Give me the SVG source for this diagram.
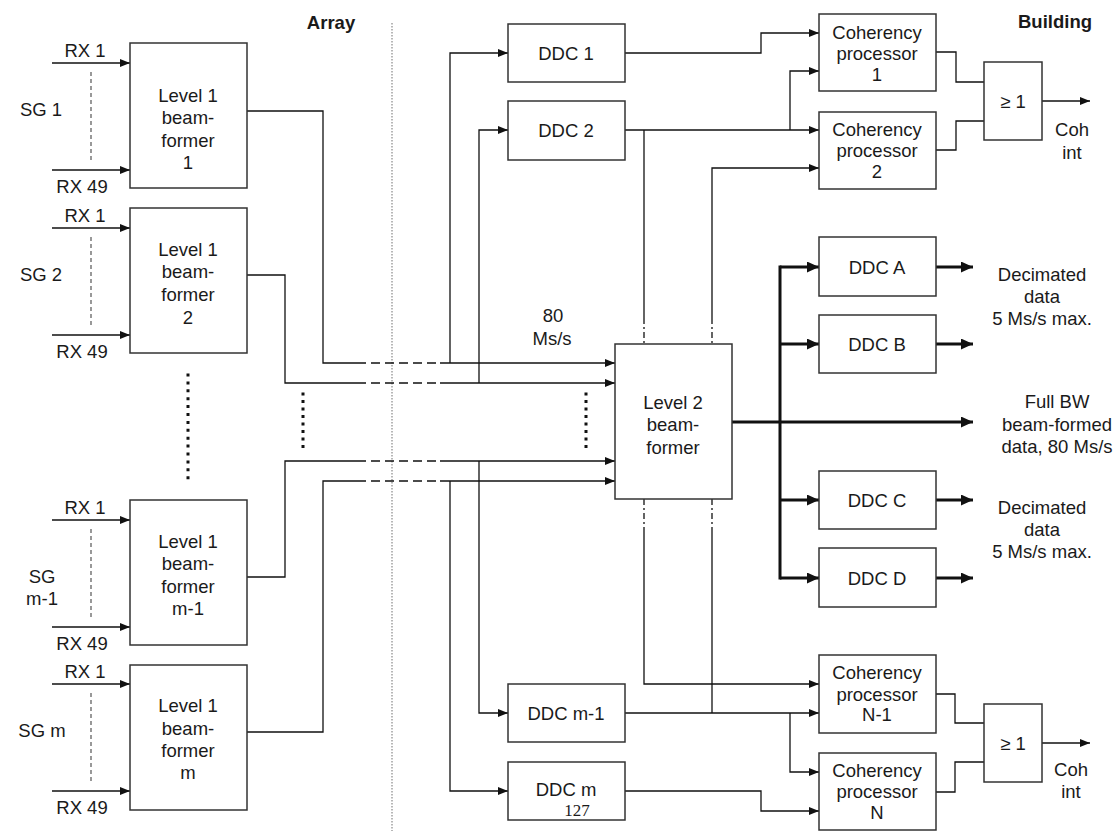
<svg xmlns="http://www.w3.org/2000/svg" width="1120" height="831" viewBox="0 0 1120 831">
<defs>
<marker id="a" markerUnits="userSpaceOnUse" markerWidth="10" markerHeight="8" refX="10" refY="4" orient="auto"><path d="M0,0 L10,4 L0,8 z" fill="#111"/></marker>
<marker id="b" markerUnits="userSpaceOnUse" markerWidth="12" markerHeight="11" refX="12" refY="5.5" orient="auto"><path d="M0,0 L12,5.5 L0,11 z" fill="#111"/></marker>
<style>
.box{fill:#fff;stroke:#333;stroke-width:1.5}
text{font-family:"Liberation Sans",Arial,sans-serif;font-size:18.5px;fill:#1a1a1a;text-anchor:middle}
.t{font-weight:bold;font-size:18.5px}
.ln{fill:none;stroke:#111;stroke-width:1.3}
.ar{fill:none;stroke:#111;stroke-width:1.3;marker-end:url(#a)}
.dash{fill:none;stroke:#111;stroke-width:1.3;stroke-dasharray:9 5}
.dd{fill:none;stroke:#111;stroke-width:1.3;stroke-dasharray:6 3 2 3}
.gd{fill:none;stroke:#555;stroke-width:1.2;stroke-dasharray:4 3}
.thick{fill:none;stroke:#111;stroke-width:3}
.tar{fill:none;stroke:#111;stroke-width:3;marker-end:url(#b)}
.dots{fill:none;stroke:#111;stroke-width:3}
.serif{font-family:"Liberation Serif","Times New Roman",serif;font-size:17px}
</style>
</defs>
<rect width="1120" height="831" fill="#fff"/>
<text class="t" x="331" y="29">Array</text>
<text class="t" x="1055" y="28">Building</text>
<line x1="392" y1="23" x2="392" y2="831" stroke="#888" stroke-width="1.2" stroke-dasharray="1.5 1.5"/>
<g id="connectors">
<path class="ar" d="M52,63 H130"/><path class="ar" d="M52,170 H130"/><path class="gd" d="M91,72 V160"/>
<path class="ar" d="M52,228 H130"/><path class="ar" d="M52,335 H130"/><path class="gd" d="M91,237 V325"/>
<path class="ar" d="M52,520 H130"/><path class="ar" d="M52,627 H130"/><path class="gd" d="M91,529 V617"/>
<path class="ar" d="M52,684 H130"/><path class="ar" d="M52,791 H130"/><path class="gd" d="M91,693 V781"/>
<path class="ln" d="M247,111 H323 V363 H357"/><path class="dash" d="M357,363 H440"/><path class="ar" d="M440,363 H615"/>
<path class="ln" d="M247,275 H285 V383 H357"/><path class="dash" d="M357,383 H440"/><path class="ar" d="M440,383 H615"/>
<path class="ln" d="M247,577 H285 V461 H357"/><path class="dash" d="M357,461 H440"/><path class="ar" d="M440,461 H615"/>
<path class="ln" d="M247,732 H323 V481 H357"/><path class="dash" d="M357,481 H440"/><path class="ar" d="M440,481 H615"/>
<path class="ar" d="M450,363 V53 H508"/>
<path class="ar" d="M479,383 V130 H508"/>
<path class="ar" d="M479,461 V713 H508"/>
<path class="ar" d="M450,481 V791 H508"/>
<path class="ar" d="M625,53 H761 V33 H819"/>
<path class="ar" d="M625,130 H819"/>
<path class="ar" d="M790,130 V71 H819"/>
<path class="ln" d="M644,130 V318"/><path class="dd" d="M644,318 V344"/>
<path class="ar" d="M712,318 V168 H819"/><path class="dd" d="M712,318 V344"/>
<path class="dd" d="M644,499 V527"/><path class="ar" d="M644,527 V684 H819"/>
<path class="dd" d="M712,499 V527"/><path class="ln" d="M712,527 V713"/>
<path class="ar" d="M625,713 H819"/>
<path class="ar" d="M790,713 V772 H819"/>
<path class="ar" d="M625,791 H761 V811 H819"/>
<path class="ln" d="M936,52 H956 V82 H984"/>
<path class="ln" d="M936,150 H956 V121 H984"/>
<path class="ar" d="M1042,101 H1090"/>
<path class="ln" d="M936,694 H955 V723 H984"/>
<path class="ln" d="M936,792 H955 V762 H984"/>
<path class="ar" d="M1042,743 H1090"/>
<path class="tar" d="M732,422 H973"/>
<path class="thick" d="M780,267 V578" stroke-linecap="square"/>
<path class="tar" d="M780,267 H819"/>
<path class="tar" d="M780,344 H819"/>
<path class="tar" d="M780,500 H819"/>
<path class="tar" d="M780,578 H819"/>
<path class="tar" d="M936,267 H973"/>
<path class="tar" d="M936,344 H973"/>
<path class="tar" d="M936,500 H973"/>
<path class="tar" d="M936,578 H973"/>
</g>
<line class="dots" x1="188" y1="373.5" x2="188" y2="479.2" stroke-dasharray="3 4.9"/>
<line class="dots" x1="303" y1="392.5" x2="303" y2="448" stroke-dasharray="3 4.5"/>
<line class="dots" x1="586" y1="392.5" x2="586" y2="448" stroke-dasharray="3 4.5"/>
<text x="85" y="57">RX 1</text><text x="82" y="193">RX 49</text><text x="41" y="116">SG 1</text>
<text x="85" y="222">RX 1</text><text x="82" y="358">RX 49</text><text x="41" y="281">SG 2</text>
<text x="85" y="514">RX 1</text><text x="82" y="650">RX 49</text><text x="42" y="583">SG</text><text x="42" y="605">m-1</text>
<text x="85" y="678">RX 1</text><text x="82" y="814">RX 49</text><text x="42" y="737">SG m</text>
<text x="553" y="322">80</text><text x="552" y="345">Ms/s</text>
<g id="l1b1"><rect class="box" x="130" y="43" width="117" height="145"/><text x="188" y="102">Level 1</text><text x="188" y="124">beam-</text><text x="188" y="147">former</text><text x="188" y="169">1</text></g>
<g id="l1b2"><rect class="box" x="130" y="208" width="117" height="145"/><text x="188" y="256">Level 1</text><text x="188" y="278">beam-</text><text x="188" y="301">former</text><text x="188" y="324">2</text></g>
<g id="l1bm1"><rect class="box" x="130" y="500" width="117" height="145"/><text x="188" y="548">Level 1</text><text x="188" y="570">beam-</text><text x="188" y="593">former</text><text x="188" y="615">m-1</text></g>
<g id="l1bm"><rect class="box" x="130" y="665" width="117" height="145"/><text x="188" y="712">Level 1</text><text x="188" y="735">beam-</text><text x="188" y="757">former</text><text x="188" y="779">m</text></g>
<g id="ddc1"><rect class="box" x="508" y="24" width="117" height="58"/><text x="566" y="60">DDC 1</text></g>
<g id="ddc2"><rect class="box" x="508" y="101" width="117" height="59"/><text x="566" y="137">DDC 2</text></g>
<g id="ddcm1"><rect class="box" x="508" y="684" width="117" height="58"/><text x="566" y="720">DDC m-1</text></g>
<g id="ddcm"><rect class="box" x="508" y="762" width="117" height="58"/><text x="566" y="796">DDC m</text><text class="serif" x="577" y="816">127</text></g>
<g id="l2"><rect class="box" x="615" y="344" width="117" height="155"/><text x="673" y="409">Level 2</text><text x="673" y="431">beam-</text><text x="673" y="454">former</text></g>
<g id="cp1"><rect class="box" x="819" y="14" width="117" height="77"/><text x="877" y="39">Coherency</text><text x="877" y="60">processor</text><text x="877" y="81">1</text></g>
<g id="cp2"><rect class="box" x="819" y="112" width="117" height="77"/><text x="877" y="136">Coherency</text><text x="877" y="157">processor</text><text x="877" y="178">2</text></g>
<g id="cpn1"><rect class="box" x="819" y="655" width="117" height="78"/><text x="877" y="679">Coherency</text><text x="877" y="701">processor</text><text x="877" y="721">N-1</text></g>
<g id="cpn"><rect class="box" x="819" y="753" width="117" height="77"/><text x="877" y="777">Coherency</text><text x="877" y="798">processor</text><text x="877" y="819">N</text></g>
<g id="or1"><rect class="box" x="984" y="62" width="58" height="78"/><text x="1013" y="108">≥ 1</text></g>
<g id="orN"><rect class="box" x="984" y="704" width="58" height="78"/><text x="1013" y="750">≥ 1</text></g>
<g id="ddcA"><rect class="box" x="819" y="237" width="117" height="59"/><text x="877" y="274">DDC A</text></g>
<g id="ddcB"><rect class="box" x="819" y="315" width="117" height="58"/><text x="877" y="351">DDC B</text></g>
<g id="ddcC"><rect class="box" x="819" y="471" width="117" height="58"/><text x="877" y="507">DDC C</text></g>
<g id="ddcD"><rect class="box" x="819" y="548" width="117" height="59"/><text x="877" y="585">DDC D</text></g>
<text x="1072" y="136">Coh</text><text x="1072" y="159">int</text>
<text x="1071" y="776">Coh</text><text x="1071" y="798">int</text>
<text x="1042" y="281">Decimated</text><text x="1042" y="303">data</text><text x="1042" y="325">5 Ms/s max.</text>
<text x="1042" y="514">Decimated</text><text x="1042" y="536">data</text><text x="1042" y="558">5 Ms/s max.</text>
<text x="1057" y="408">Full BW</text><text x="1057" y="431">beam-formed</text><text x="1057" y="453">data, 80 Ms/s</text>
</svg>
